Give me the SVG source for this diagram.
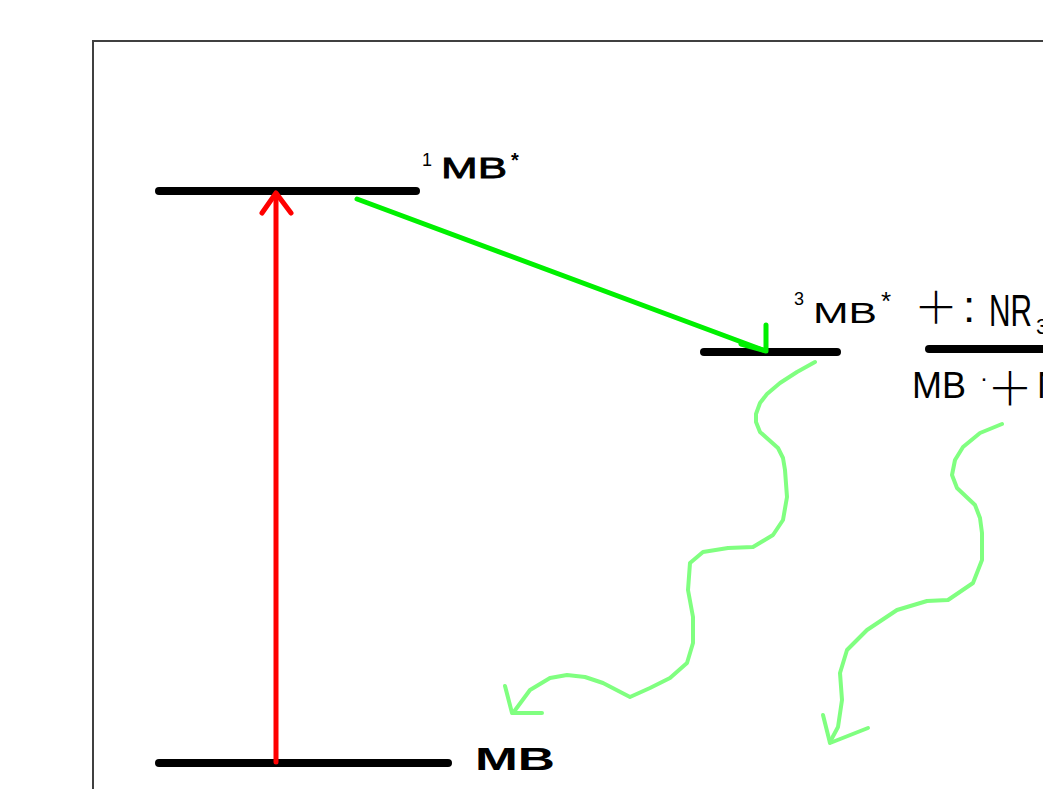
<svg xmlns="http://www.w3.org/2000/svg" width="1043" height="789" viewBox="0 0 1043 789">
<style>
.lvl{stroke:#000;stroke-width:8;stroke-linecap:round;fill:none}
.wave{stroke:#80ff80;stroke-width:4;fill:none;stroke-linejoin:round;stroke-linecap:round}
.t{font-family:"Liberation Sans",Arial,sans-serif;fill:#000}
.cj{font-family:"Noto Sans CJK SC",sans-serif;fill:#000}
</style>
<rect x="0" y="0" width="1043" height="789" fill="#fff"/>
<rect x="93" y="41" width="1000" height="800" fill="none" stroke="#404040" stroke-width="2"/>

<g id="level-S1">
  <line class="lvl" x1="159" y1="191" x2="416" y2="191"/>
  <text class="t" x="422" y="166" font-size="18">1</text>
  <text class="t" x="441" y="178" font-size="30" stroke="#000" stroke-width="0.8" textLength="66" lengthAdjust="spacingAndGlyphs">MB</text>
  <text class="t" x="511" y="167" font-size="20" font-weight="bold">*</text>
</g>

<g id="level-T1">
  <line class="lvl" x1="704" y1="352" x2="837" y2="352" stroke-width="7"/>
  <text class="t" x="794" y="305" font-size="18">3</text>
  <text class="t" x="813" y="323" font-size="29" textLength="64" lengthAdjust="spacingAndGlyphs">MB</text>
  <text class="t" x="881" y="310" font-size="26">*</text>
</g>

<g id="level-CT">
  <line class="lvl" x1="929" y1="349" x2="1050" y2="349" stroke-width="7"/>
  <text class="cj" x="914" y="324" font-size="44" font-weight="300">＋</text>
  <text class="t" x="963" y="322" font-size="44">:</text>
  <text class="t" x="989" y="326" font-size="44" textLength="43" lengthAdjust="spacingAndGlyphs">NR</text>
  <text class="t" x="1036" y="334" font-size="22">3</text>
  <text class="t" x="912" y="398" font-size="36" textLength="54" lengthAdjust="spacingAndGlyphs">MB</text>
  <text class="t" x="980" y="386" font-size="24">·</text>
  <text class="cj" x="987" y="405" font-size="46" font-weight="300">＋</text>
  <text class="t" x="1037" y="398" font-size="36">N</text>
</g>

<g id="level-S0">
  <line class="lvl" x1="159" y1="763" x2="448" y2="763"/>
  <text class="t" x="475" y="770" font-size="32" font-weight="bold" textLength="80" lengthAdjust="spacingAndGlyphs">MB</text>
</g>

<g id="connectors">
  <g id="absorption">
    <line x1="276" y1="762" x2="276" y2="194" stroke="#ff0000" stroke-width="5" stroke-linecap="round"/>
    <polyline points="262,213 276,193 291,213" fill="none" stroke="#ff0000" stroke-width="5" stroke-linecap="round" stroke-linejoin="round"/>
  </g>
  <g id="isc">
    <line x1="357" y1="199" x2="763" y2="350" stroke="#00f000" stroke-width="5" stroke-linecap="round"/>
    <polyline points="766,325 766,351 741,344" fill="none" stroke="#00f000" stroke-width="5" stroke-linecap="round" stroke-linejoin="round"/>
  </g>
  <g id="decay1">
    <path class="wave" d="M815,362 L797,372 L780,383 L767,394 L760,403 L756,414 L756,422 L760,432 L778,448 L783,458 L785,470 L787,497 L783,520 L773,535 L753,547 L728,548 L703,552 L690,563 L688,590 L693,617 L693,643 L687,663 L670,678 L650,688 L630,697 L603,683 L585,677 L567,675 L550,678 L530,690 L513,713"/>
    <polyline class="wave" points="505,686 512,713 542,713"/>
  </g>
  <g id="decay2">
    <path class="wave" d="M1002,424 L980,433 L963,447 L955,460 L952,475 L957,488 L975,505 L980,518 L982,533 L982,560 L973,583 L948,600 L927,601 L897,610 L867,630 L847,650 L840,673 L842,700 L838,727 L830,742"/>
    <polyline class="wave" points="823,715 830,743 868,728"/>
  </g>
</g>
</svg>
